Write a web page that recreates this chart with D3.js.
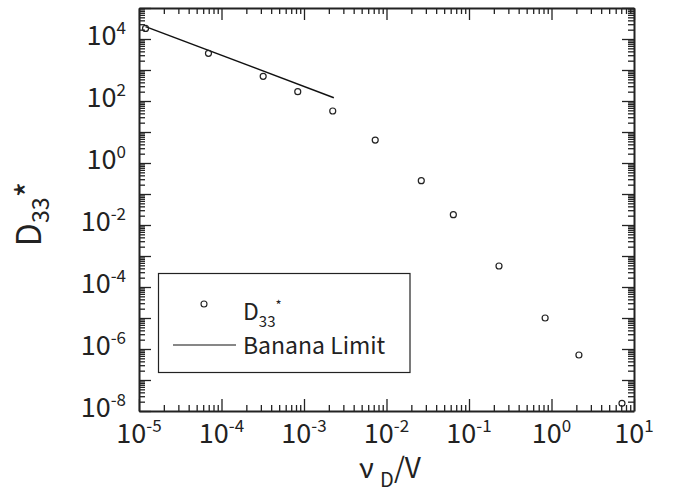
<!DOCTYPE html>
<html>
<head>
<meta charset="utf-8">
<script src="https://cdn.jsdelivr.net/npm/d3@7"></script>
<style>
  body { margin: 0; background: #fff; }
  svg text { font-family: "Noto Sans CJK JP", "Liberation Sans", sans-serif; fill: #222; }
</style>
</head>
<body>
<div id="chart"></div>
<script>
// data
var xTickExps = [-5, -4, -3, -2, -1, 0, 1];
var yTickExps = [-8, -6, -4, -2, 0, 2, 4];
var nuRatio = [1.2e-5, 6.95e-5, 3.2e-4, 8.4e-4, 2.23e-3, 7.3e-3, 2.64e-2, 6.46e-2, 0.231, 0.837, 2.15, 7.15];
var d33 = [2.2e4, 3.46e3, 627, 200, 47.6, 5.5, 0.27, 0.0215, 4.75e-4, 1e-5, 6.4e-7, 1.77e-8];
var bananaNu = [1.2e-5, 2.3e-3];
var bananaD = [2.5e4, 128];

var width = 673, height = 487;
// plot box (note: "top" is reserved on window)
var pL = 139, pR = 634, pT = 8, pB = 411;

var svg = d3.select("#chart").append("svg")
	.attr("width", width)
	.attr("height", height);

var x = d3.scaleLog().domain([1e-5, 1e1]).range([pL, pR]);
var y = d3.scaleLog().domain([1e-8, 1e5]).range([pB, pT]);

// decade and 2..9 ticks
function decades(lo, hi) {
	var out = [];
	for (var k = lo; k <= hi; k++) out.push(Math.pow(10, k));
	return out;
}
function minors(lo, hi) {
	var out = [];
	for (var k = lo; k < hi; k++) {
		for (var m = 2; m <= 9; m++) out.push(m * Math.pow(10, k));
	}
	return out;
}

var xMajor = decades(-5, 1), xMinor = minors(-5, 1);
var yMajor = decades(-8, 5), yMinor = minors(-8, 5);

function drawAxis(axisFn, scale, pos, ticks, size, withDomain) {
	var g = svg.append("g")
		.attr("transform", pos)
		.call(axisFn(scale).tickValues(ticks).tickSize(size).tickSizeOuter(0).tickFormat(""));
	g.selectAll(".tick line").attr("stroke", "#222").attr("stroke-width", 1.3);
	g.select(".domain").attr("stroke", "#222").attr("stroke-width", 2);
	if (!withDomain) g.select(".domain").remove();
	return g;
}

// bottom / top
drawAxis(d3.axisBottom, x, "translate(0," + pB + ")", xMinor, -6, false);
drawAxis(d3.axisBottom, x, "translate(0," + pB + ")", xMajor, -12, true);
drawAxis(d3.axisTop, x, "translate(0," + pT + ")", xMinor, -6, false);
drawAxis(d3.axisTop, x, "translate(0," + pT + ")", xMajor, -12, true);
// left / right
drawAxis(d3.axisLeft, y, "translate(" + pL + ",0)", yMinor, -6, false);
drawAxis(d3.axisLeft, y, "translate(" + pL + ",0)", yMajor, -12, true);
drawAxis(d3.axisRight, y, "translate(" + pR + ",0)", yMinor, -6, false);
drawAxis(d3.axisRight, y, "translate(" + pR + ",0)", yMajor, -12, true);

// tick labels with superscript exponents
var xl = svg.append("g").selectAll("text")
	.data(xTickExps)
	.enter().append("text")
	.attr("x", function (d) { return x(Math.pow(10, d)); })
	.attr("y", pB + 32)
	.attr("text-anchor", "middle")
	.style("font-size", "27px");
xl.append("tspan").text("10");
xl.append("tspan").attr("dy", -11).style("font-size", "17px").text(function (d) { return d; });

var yl = svg.append("g").selectAll("text")
	.data(yTickExps)
	.enter().append("text")
	.attr("x", 126)
	.attr("y", function (d) { return y(Math.pow(10, d)) + 5.5; })
	.attr("text-anchor", "end")
	.style("font-size", "27px");
yl.append("tspan").text("10");
yl.append("tspan").attr("dy", -11).style("font-size", "17px").text(function (d) { return d; });

// banana limit line
var line = d3.line()
	.x(function (d, i) { return x(bananaNu[i]); })
	.y(function (d) { return y(d); });

svg.append("path")
	.datum(bananaD)
	.attr("d", line)
	.attr("fill", "none")
	.attr("stroke", "#111")
	.attr("stroke-width", 1.5);

// D33* markers
svg.append("g").selectAll("circle")
	.data(d33)
	.enter().append("circle")
	.attr("cx", function (d, i) { return x(nuRatio[i]); })
	.attr("cy", function (d) { return y(d); })
	.attr("r", 3)
	.attr("fill", "none")
	.attr("stroke", "#222")
	.attr("stroke-width", 1.2);

// legend
var lg = svg.append("g");
lg.append("rect")
	.attr("x", 158.5).attr("y", 273.5)
	.attr("width", 251.5).attr("height", 99)
	.attr("fill", "#fff")
	.attr("stroke", "#222")
	.attr("stroke-width", 1.2);
lg.append("circle")
	.attr("cx", 204).attr("cy", 304).attr("r", 3)
	.attr("fill", "none").attr("stroke", "#222").attr("stroke-width", 1.1);
var t1 = lg.append("text").attr("x", 243).attr("y", 320).style("font-size", "23px");
t1.append("tspan").text("D");
t1.append("tspan").attr("dy", 7).style("font-size", "15px").text("33");
t1.append("tspan").attr("dy", -17).style("font-size", "13px").text("*");
lg.append("line")
	.attr("x1", 173).attr("x2", 236).attr("y1", 345).attr("y2", 345)
	.attr("stroke", "#111").attr("stroke-width", 1.2);
lg.append("text").attr("x", 243).attr("y", 354).style("font-size", "23px").text("Banana Limit");

// axis titles
var xt = svg.append("text")
	.attr("x", 390).attr("y", 478)
	.attr("text-anchor", "middle")
	.style("font-size", "28px");
xt.append("tspan").text("\u03bd ");
xt.append("tspan").attr("dy", 9).style("font-size", "20px").text("D");
xt.append("tspan").attr("dy", -9).text("/V");

var yt = svg.append("text")
	.attr("transform", "translate(41,214) rotate(-90)")
	.attr("text-anchor", "middle")
	.style("font-size", "34px");
yt.append("tspan").text("D");
yt.append("tspan").attr("dy", 8).style("font-size", "23px").text("33");
yt.append("tspan").attr("dy", -8).text("*");
</script>
</body>
</html>
